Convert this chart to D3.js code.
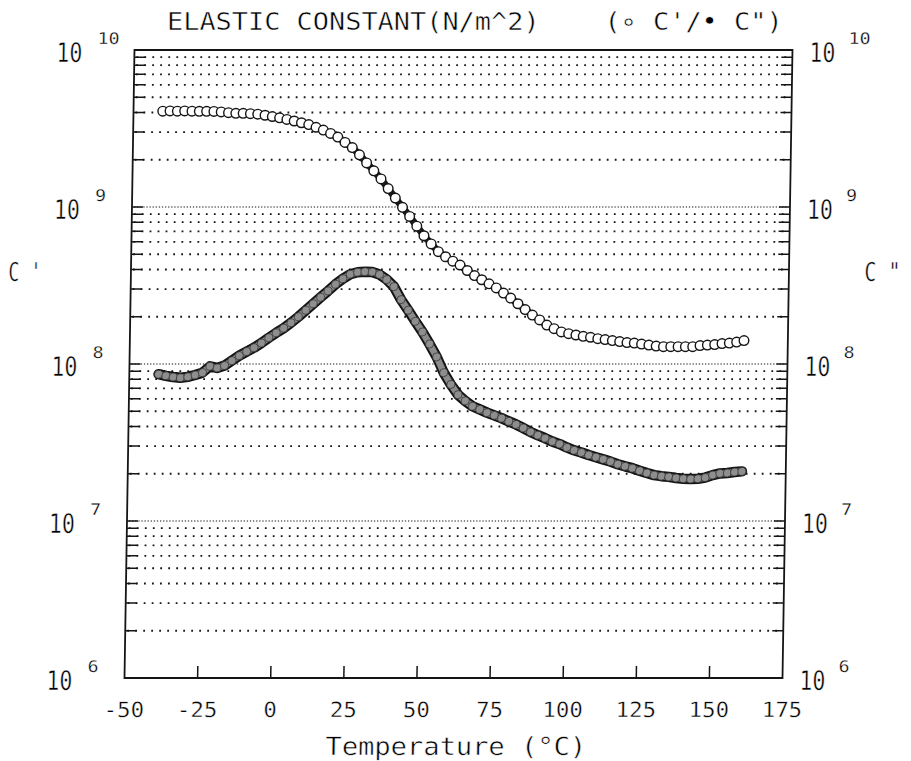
<!DOCTYPE html>
<html><head><meta charset="utf-8">
<script src="https://cdn.jsdelivr.net/npm/d3@7"></script>
<style>html,body{margin:0;padding:0;background:#fff;} svg{display:block}</style>
</head><body>
<script>
// ---------- data ----------
const temperatures = [-40,-37.5,-35,-32.5,-30,-27.5,-25,-22.5,-20,-17.5,-15,-12.5,-10,-7.5,-5,-2.5,0,2.5,5,7.5,10,12.5,15,17.5,20,22.5,25,27.5,30,32.5,35,37.5,40,42.5,45,47.5,50,52.5,55,57.5,60,62.5,65,67.5,70,72.5,75,77.5,80,82.5,85,87.5,90,92.5,95,97.5,100,102.5,105,107.5,110,112.5,115,117.5,120,122.5,125,127.5,130,132.5,135,137.5,140,142.5,145,147.5,150,152.5,155,157.5,160];
const cPrime = [4.08e9,4.09e9,4.08e9,4.09e9,4.08e9,4.07e9,4.07e9,4.06e9,4.03e9,3.99e9,
  3.95e9,3.95e9,3.93e9,3.90e9,3.84e9,3.77e9,3.70e9,3.61e9,3.53e9,3.44e9,
  3.35e9,3.22e9,3.09e9,2.94e9,2.79e9,2.58e9,2.39e9,2.15e9,1.91e9,1.70e9,
  1.51e9,1.31e9,1.14e9,9.95e8,8.71e8,7.55e8,6.56e8,5.82e8,5.19e8,4.82e8,
  4.52e8,4.27e8,3.94e8,3.66e8,3.44e8,3.24e8,3.05e8,2.83e8,2.63e8,2.42e8,
  2.22e8,2.05e8,1.91e8,1.77e8,1.68e8,1.60e8,1.56e8,1.53e8,1.50e8,1.48e8,
  1.45e8,1.43e8,1.41e8,1.39e8,1.37e8,1.36e8,1.34e8,1.32e8,1.30e8,1.29e8,
  1.29e8,1.29e8,1.29e8,1.29e8,1.31e8,1.32e8,1.33e8,1.35e8,1.36e8,1.38e8,1.41e8];
const cDoublePrime = [8.61e7,8.41e7,8.26e7,8.17e7,8.28e7,8.51e7,8.81e7,9.66e7,9.44e7,9.77e7,
  1.05e8,1.13e8,1.20e8,1.27e8,1.36e8,1.47e8,1.58e8,1.69e8,1.83e8,2.00e8,
  2.20e8,2.42e8,2.66e8,2.92e8,3.22e8,3.49e8,3.73e8,3.84e8,3.87e8,3.85e8,
  3.72e8,3.45e8,3.11e8,2.57e8,2.20e8,1.87e8,1.60e8,1.34e8,1.11e8,8.81e7,
  7.41e7,6.38e7,5.82e7,5.38e7,5.14e7,4.90e7,4.71e7,4.52e7,4.31e7,4.12e7,
  3.91e7,3.69e7,3.52e7,3.37e7,3.21e7,3.09e7,2.94e7,2.82e7,2.73e7,2.63e7,
  2.55e7,2.47e7,2.39e7,2.30e7,2.23e7,2.17e7,2.09e7,2.02e7,1.96e7,1.93e7,
  1.91e7,1.88e7,1.86e7,1.85e7,1.86e7,1.89e7,1.96e7,2.01e7,2.02e7,2.05e7,2.07e7];
const xTicks = [-50,-25,0,25,50,75,100,125,150,175];
const yDecades = [6,7,8,9,10];
const titleText = "ELASTIC CONSTANT(N/m^2)    (\u2218 C'/\u2022 C\")";
const xAxisTitle = "Temperature (\u00B0C)";
const leftTitle = "C '";
const rightTitle = "C \"";

// ---------- layout ----------
const W = 911, H = 761;
const X0 = 124.5, X1 = 782.5, Y0 = 678, Y1 = 50;
const x = d3.scaleLinear().domain([-50, 175]).range([X0, X1]);
const y = d3.scaleLog().domain([1e6, 1e10]).range([Y0, Y1]);
const FONT = "'DejaVu Sans Mono', monospace";
const INK = "#000";

const svg = d3.select("body").append("svg").attr("width", W).attr("height", H)
  .style("background", "#fff");

// plotter-like thin text: glyph fill slightly eroded by a thin white stroke
function ptext(g, str, px, py, size, cw, anchor, thin) {
  return g.append("text").attr("x", px).attr("y", py)
    .attr("font-family", FONT).attr("font-size", size)
    .attr("fill", INK)
    .attr("stroke", "#fff").attr("stroke-width", thin == null ? 0.5 : thin)
    .attr("xml:space", "preserve").style("white-space", "pre")
    .attr("text-anchor", anchor || "start")
    .attr("textLength", str.length * cw).attr("lengthAdjust", "spacingAndGlyphs")
    .text(str);
}

// the scanned original is slightly sheared: vertical lines lean left toward the bottom
const g = svg.append("g")
  .attr("transform", `translate(0,${Y0}) skewX(-0.91) translate(0,${-Y0})`);

// ---------- grid lines ----------
const gridVals = y.ticks().filter(v => v > 1e6 * 1.001 && v < 1e10 * 0.999);
const isDecade = v => Math.abs(Math.log10(v) - Math.round(Math.log10(v))) < 1e-6;

g.append("g").selectAll("line").data(gridVals).join("line")
  .attr("x1", X0 + 2).attr("x2", X1 - 2)
  .attr("y1", d => y(d)).attr("y2", d => y(d))
  .attr("stroke", "#151515")
  .attr("stroke-width", d => isDecade(d) ? 1.2 : 1.8)
  .attr("stroke-dasharray", d => isDecade(d) ? "1.3,1.8" : "1.8,6.2");

// small ticks at every grid line on both vertical axes
g.append("g").selectAll("line").data(gridVals).join("line")
  .attr("x1", X0).attr("x2", X0 + 11)
  .attr("y1", d => y(d)).attr("y2", d => y(d))
  .attr("stroke", "#151515").attr("stroke-width", 1.5);
g.append("g").selectAll("line").data(gridVals).join("line")
  .attr("x1", X1 - 11).attr("x2", X1)
  .attr("y1", d => y(d)).attr("y2", d => y(d))
  .attr("stroke", "#151515").attr("stroke-width", 1.5);

// x ticks (inside, pointing up)
g.append("g").selectAll("line").data(xTicks.slice(1, -1)).join("line")
  .attr("x1", d => x(d)).attr("x2", d => x(d))
  .attr("y1", Y0).attr("y2", Y0 - 12)
  .attr("stroke", "#151515").attr("stroke-width", 1.5);

// frame
g.append("rect").attr("x", X0).attr("y", Y1).attr("width", X1 - X0).attr("height", Y0 - Y1)
  .attr("fill", "none").attr("stroke", "#151515").attr("stroke-width", 1.8);

// ---------- data ----------
const ptsLo = temperatures.map((t, i) => [x(t), y(cDoublePrime[i])]);
const ptsHi = temperatures.map((t, i) => [x(t), y(cPrime[i])]);
const line = d3.line().curve(d3.curveLinear);

// C'' : grey band with dark edges
g.append("path").attr("d", line(ptsLo)).attr("fill", "none")
  .attr("stroke", "#151515").attr("stroke-width", 10.5).attr("stroke-linejoin", "round").attr("stroke-linecap", "round");
g.append("path").attr("d", line(ptsLo)).attr("fill", "none")
  .attr("stroke", "#8a8a8a").attr("stroke-width", 6.5).attr("stroke-linejoin", "round").attr("stroke-linecap", "round");
g.append("g").selectAll("circle").data(ptsLo).join("circle")
  .attr("cx", d => d[0]).attr("cy", d => d[1]).attr("r", 4)
  .attr("fill", "#8e8e8e").attr("stroke", "#2a2a2a").attr("stroke-width", 0.7);

// C' : open circles
g.append("path").attr("d", line(ptsHi)).attr("fill", "none")
  .attr("stroke", "#1a1a1a").attr("stroke-width", 7).attr("stroke-linejoin", "round").attr("stroke-linecap", "round");
g.append("g").selectAll("circle").data(ptsHi).join("circle")
  .attr("cx", d => d[0]).attr("cy", d => d[1]).attr("r", 4.8)
  .attr("fill", "#fff").attr("stroke", "#151515").attr("stroke-width", 1.4);

// ---------- axis labels ----------
yDecades.forEach(k => {
  const yy = y(Math.pow(10, k));
  const ex = String(k);
  // left
  ptext(g, "10", X0 - 78, yy + 12, 27, 13);
  ptext(g, ex, X0 - 37, yy - 6, 16, 11, "start", 0.3);
  // right
  ptext(g, "10", X1 + 17, yy + 12, 27, 13);
  ptext(g, ex, X1 + 56, yy - 6, 16, 11, "start", 0.3);
});

xTicks.forEach(t => {
  ptext(g, String(t), x(t), 717, 21, 13.5, "middle", 0.4);
});

ptext(g, xAxisTitle, 457, 755, 25, 16.3, "middle");
ptext(g, leftTitle, 2, 281, 26, 11);
ptext(g, rightTitle, 858, 281, 26, 12);

// title
ptext(svg, titleText, 167, 30, 25, 16.2, "start", 0.5);
</script>
</body></html>
